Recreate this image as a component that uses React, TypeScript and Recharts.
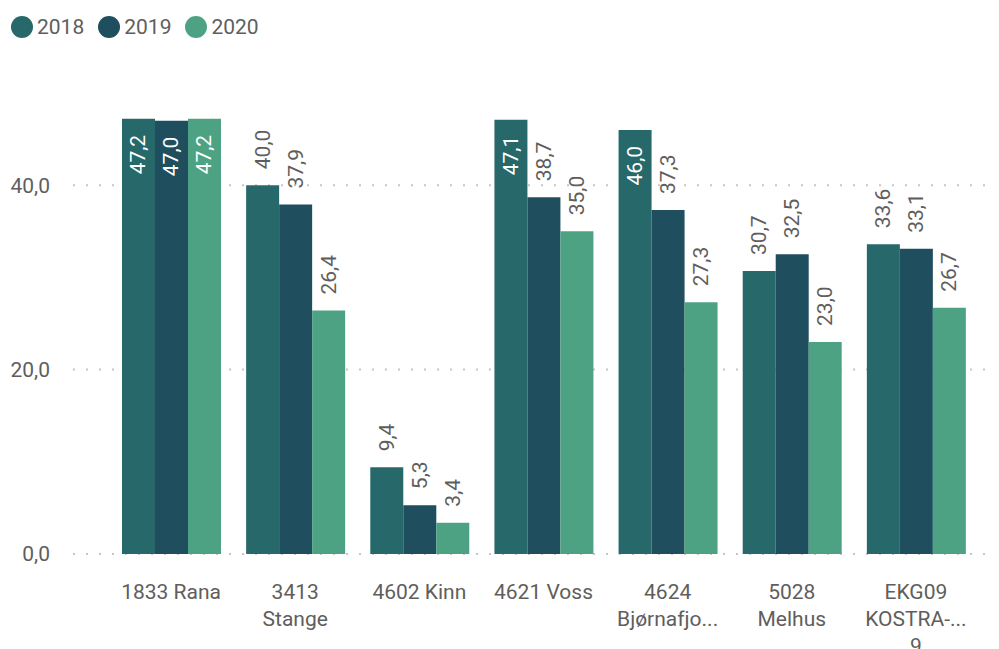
import React from "react";
import { BarChart, Bar, XAxis, YAxis, CartesianGrid, LabelList } from "recharts";

const categories = [
  "1833 Rana",
  "3413 Stange",
  "4602 Kinn",
  "4621 Voss",
  "4624 Bjørnafjorden",
  "5028 Melhus",
  "EKG09 KOSTRA-gruppe 9",
];
const tickLines = [
  ["1833 Rana"],
  ["3413", "Stange"],
  ["4602 Kinn"],
  ["4621 Voss"],
  ["4624", "Bjørnafjo..."],
  ["5028", "Melhus"],
  ["EKG09", "KOSTRA-...", "9"],
];
const values2018 = [47.2, 40.0, 9.4, 47.1, 46.0, 30.7, 33.6];
const values2019 = [47.0, 37.9, 5.3, 38.7, 37.3, 32.5, 33.1];
const values2020 = [47.2, 26.4, 3.4, 35.0, 27.3, 23.0, 26.7];
const yTicks = [0, 20, 40];
const seriesNames = ["2018", "2019", "2020"];
const colors = ["#27696B", "#1F4E5F", "#4EA284"];

const data = categories.map((c, i) => ({
  name: c,
  idx: i,
  "2018": values2018[i],
  "2019": values2019[i],
  "2020": values2020[i],
}));

const FONT = "Roboto, 'DejaVu Sans', sans-serif";
const TEXT = "#605E5C";
const PLOT_TOP = 93;

const fmt = (v: number) => v.toFixed(1).replace(".", ",");

const renderLabel = (props: any) => {
  const { x, y, width, value } = props;
  const cx = Number(x) + Number(width) / 2;
  const top = Number(y);
  const inside = top - 16 - 42 < PLOT_TOP;
  const ty = inside ? top + 16 : top - 16;
  return (
    <text
      x={cx}
      y={ty}
      transform={`rotate(-90, ${cx}, ${ty})`}
      textAnchor={inside ? "end" : "start"}
      dominantBaseline="central"
      fill={inside ? "#FFFFFF" : TEXT}
      fontSize={21}
      fontFamily={FONT}
    >
      {fmt(Number(value))}
    </text>
  );
};

const XTick = (props: any) => {
  const { x, y, payload } = props;
  const lines = tickLines[payload.index] || [String(payload.value)];
  return (
    <g>
      {lines.map((l, i) => (
        <text
          key={i}
          x={x}
          y={Number(y) + 45 + i * 27}
          textAnchor="middle"
          fill={TEXT}
          fontSize={21}
          fontFamily={FONT}
        >
          {l}
        </text>
      ))}
    </g>
  );
};

export default function App() {
  return (
    <div style={{ position: "absolute", left: 0, top: 0, width: 999, height: 649, background: "#fff", fontFamily: FONT }}>
      <div style={{ position: "absolute", left: 11, top: 16, display: "flex", alignItems: "center", zIndex: 2 }}>
        {seriesNames.map((s, i) => (
          <div key={s} style={{ display: "flex", alignItems: "center", marginRight: 14 }}>
            <div style={{ width: 22, height: 22, borderRadius: 11, background: colors[i], marginRight: 4 }} />
            <span style={{ fontSize: 21, color: TEXT, lineHeight: "22px" }}>{s}</span>
          </div>
        ))}
      </div>
      <BarChart
        width={999}
        height={649}
        data={data}
        margin={{ top: PLOT_TOP, right: 14, bottom: 0, left: 0 }}
        barCategoryGap={13}
        barGap={0}
      >
        <CartesianGrid
          vertical={false}
          horizontalValues={yTicks}
          stroke="#C8C6C4"
          strokeDasharray="2 11"
          strokeWidth={2}
        />
        <XAxis
          dataKey="name"
          axisLine={false}
          tickLine={false}
          tickSize={0}
          tickMargin={0}
          height={95}
          interval={0}
          padding={{ left: 36, right: 7 }}
          tick={<XTick />}
        />
        <YAxis
          width={73}
          domain={[0, 50]}
          ticks={yTicks}
          axisLine={false}
          tickLine={false}
          tickSize={0}
          tickMargin={23}
          tickFormatter={(v: number) => fmt(v)}
          tick={{ fill: TEXT, fontSize: 21, fontFamily: FONT }}
        />
        {seriesNames.map((s, i) => (
          <Bar key={s} dataKey={s} fill={colors[i]} isAnimationActive={false}>
            <LabelList dataKey={s} content={renderLabel} />
          </Bar>
        ))}
      </BarChart>
    </div>
  );
}
